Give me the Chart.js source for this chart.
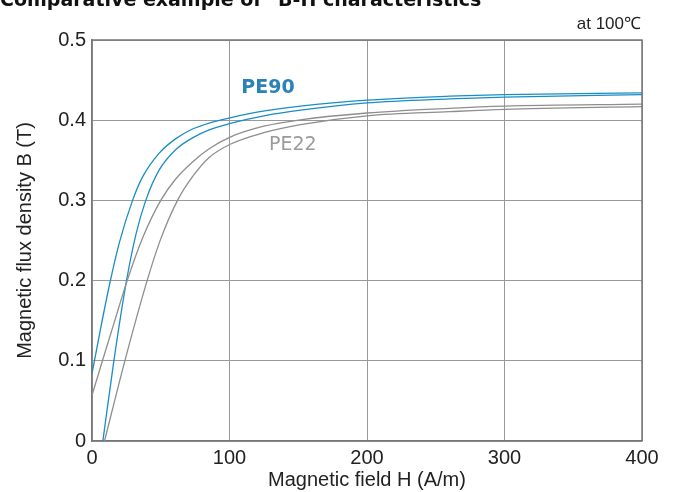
<!DOCTYPE html>
<html>
<head>
<meta charset="utf-8">
<script src="https://cdn.jsdelivr.net/npm/chart.js@4.4.1/dist/chart.umd.min.js"></script>
<style>
  html, body { margin: 0; padding: 0; background: #fff; }
  #wrap { position: relative; width: 676px; height: 492px; overflow: hidden; }
  #title { position: absolute; left: 0; top: -12px; font: bold 19px "DejaVu Sans", sans-serif; color: #111; white-space: nowrap; }
  #temp { position: absolute; right: 35px; top: 11px; font: 17px "Liberation Sans", sans-serif; color: #222; white-space: nowrap; }
  canvas { position: absolute; left: 0; top: 0; }
</style>
</head>
<body>
<div id="wrap">
  <canvas id="c" width="676" height="492"></canvas>
  <div id="title">Comparative example of "B-H characteristics</div>
  <div id="temp">at 100℃</div>
</div>
<script>
// ---- data (H in A/m, B in T) ----
const pe90UpperH = [0, 6, 13, 20, 29.5, 36.7, 48.9, 61, 73.1, 85.2, 100.5, 120, 151.6, 200, 260, 300, 400];
const pe90UpperB = [0.084, 0.138, 0.197, 0.248, 0.3, 0.329, 0.359, 0.377, 0.389, 0.3965, 0.403, 0.41, 0.4175, 0.425, 0.43, 0.432, 0.434];
const pe90LowerH = [7.9, 15.9, 25.1, 32, 39.1, 48.9, 61, 73.1, 85.2, 100.5, 125, 151.6, 200, 260, 300, 400];
const pe90LowerB = [0, 0.1, 0.2, 0.258, 0.3, 0.338, 0.3635, 0.378, 0.388, 0.396, 0.4055, 0.4125, 0.4215, 0.4265, 0.4288, 0.432];
const pe22UpperH = [0, 7.6, 16, 25.6, 37, 50, 61, 73.1, 85.2, 100.5, 125, 151.6, 200, 260, 300, 400];
const pe22UpperB = [0.057, 0.1, 0.147, 0.2, 0.254, 0.3, 0.327, 0.348, 0.3645, 0.379, 0.3925, 0.4005, 0.409, 0.4148, 0.4175, 0.42];
const pe22LowerH = [9.1, 23.9, 40.1, 50, 62.2, 73.1, 85.2, 100.5, 125, 151.6, 200, 260, 300, 400];
const pe22LowerB = [0, 0.1, 0.2, 0.252, 0.3, 0.3295, 0.3535, 0.37, 0.3845, 0.3945, 0.4055, 0.4106, 0.4135, 0.417];
const seriesLabels = ["PE90", "PE22"];
const xTicks = [0, 100, 200, 300, 400];
const yTicks = [0, 0.1, 0.2, 0.3, 0.4, 0.5];
const labelPos = { PE90: [128, 0.44], PE22: [146, 0.369] };

const BLUE = "#1b8dc6", GRAY = "#8e8e8e";
const FONT = "Liberation Sans";
const pts = (h, b) => h.map((x, i) => ({ x: x, y: b[i] }));
const ds = (label, h, b, color) => ({
  label, data: pts(h, b), borderColor: color, backgroundColor: color,
  borderWidth: 1.3, pointRadius: 0, showLine: true, fill: false,
  cubicInterpolationMode: "monotone"
});

const curveLabels = {
  id: "curveLabels",
  afterDatasetsDraw(chart) {
    const { ctx, scales: { x, y } } = chart;
    ctx.save();
    ctx.textAlign = "center"; ctx.textBaseline = "middle";
    ctx.font = "bold 19px DejaVu Sans"; ctx.fillStyle = "#2a82b6";
    ctx.fillText(seriesLabels[0], x.getPixelForValue(labelPos.PE90[0]), y.getPixelForValue(labelPos.PE90[1]));
    ctx.font = "19px DejaVu Sans"; ctx.fillStyle = "#9a9a9a";
    ctx.fillText(seriesLabels[1], x.getPixelForValue(labelPos.PE22[0]), y.getPixelForValue(labelPos.PE22[1]));
    ctx.restore();
  }
};

new Chart(document.getElementById("c"), {
  type: "scatter",
  data: {
    datasets: [
      ds("PE22 upper", pe22UpperH, pe22UpperB, GRAY),
      ds("PE22 lower", pe22LowerH, pe22LowerB, GRAY),
      ds("PE90 upper", pe90UpperH, pe90UpperB, BLUE),
      ds("PE90 lower", pe90LowerH, pe90LowerB, BLUE)
    ]
  },
  options: {
    responsive: false, animation: false, devicePixelRatio: 1,
    layout: { padding: { left: 0, right: 34, top: 40, bottom: 0 } },
    plugins: { legend: { display: false }, tooltip: { enabled: false }, title: { display: false } },
    scales: {
      x: {
        type: "linear", min: 0, max: 400,
        afterBuildTicks: (s) => { s.ticks = xTicks.map(v => ({ value: v })); },
        afterFit: (s) => { s.height = 51; },
        grid: { color: "#999", lineWidth: 1, drawTicks: false },
        border: { color: "#777", width: 1.5 },
        ticks: { padding: 5, color: "#222", font: { family: FONT, size: 20 } },
        title: { display: true, text: "Magnetic field H (A/m)", color: "#222", padding: { top: 0, bottom: 0 }, font: { family: FONT, size: 20 } }
      },
      y: {
        type: "linear", min: 0, max: 0.5,
        afterBuildTicks: (s) => { s.ticks = yTicks.map(v => ({ value: v })); },
        afterFit: (s) => { s.width = 92; },
        grid: { color: "#999", lineWidth: 1, drawTicks: false },
        border: { color: "#777", width: 1.5 },
        ticks: { padding: 6, color: "#222", font: { family: FONT, size: 20 }, callback: v => String(+v.toFixed(1)) },
        title: { display: true, text: "Magnetic flux density B (T)", color: "#222", padding: { top: 13, bottom: 0 }, font: { family: FONT, size: 20 } }
      }
    }
  },
  plugins: [curveLabels, {
    id: "frame",
    afterDraw(chart) {
      const { ctx, chartArea: a } = chart;
      ctx.save(); ctx.strokeStyle = "#777"; ctx.lineWidth = 1.5;
      ctx.beginPath(); ctx.moveTo(a.left, a.top); ctx.lineTo(a.right, a.top); ctx.lineTo(a.right, a.bottom); ctx.stroke();
      ctx.restore();
    }
  }]
});
</script>
</body>
</html>
